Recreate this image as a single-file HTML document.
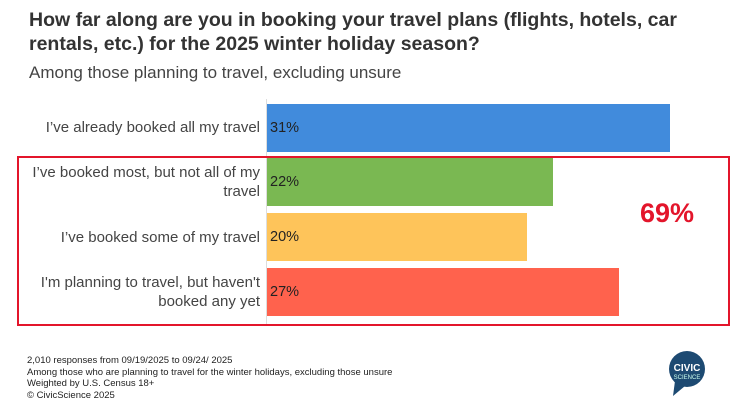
<!DOCTYPE html>
<html><head><style>
body{margin:0;width:751px;height:410px;background:#fff;position:relative;overflow:hidden;font-family:"Liberation Sans",Arial,sans-serif;color:#333}
.t{position:absolute;left:29px;top:8px;font-size:19.5px;font-weight:bold;line-height:24px;color:#333;width:720px}
.s{position:absolute;left:29px;top:63px;font-size:17px;color:#444}
.ax{position:absolute;left:266px;top:99px;width:1px;height:227px;background:#ddd}
.b{position:absolute;left:267px;height:48px;font-size:14.5px;color:#222;line-height:48px;padding-left:3px;box-sizing:border-box}
.l{position:absolute;right:491px;text-align:right;font-size:15px;color:#444;line-height:19px;width:245px}
.box{position:absolute;left:17px;top:156px;width:709px;height:166px;border:2px solid #e3152b}
.p{position:absolute;left:640px;top:198px;font-size:27px;font-weight:bold;color:#e3152b}
.f{position:absolute;left:27px;top:355px;font-size:9.5px;line-height:11.5px;color:#222}
</style></head><body>
<div class="t">How far along are you in booking your travel plans (flights, hotels, car rentals, etc.) for the 2025 winter holiday season?</div>
<div class="s">Among those planning to travel, excluding unsure</div>
<div class="ax"></div>
<div class="b" style="top:104px;width:403px;background:#418bdc">31%</div>
<div class="b" style="top:158px;width:286px;background:#7ab852">22%</div>
<div class="b" style="top:213px;width:260px;background:#fec45a">20%</div>
<div class="b" style="top:268px;width:352px;background:#ff624d">27%</div>
<div class="l" style="top:118px">I’ve already booked all my travel</div>
<div class="l" style="top:163px">I’ve booked most, but not all of my travel</div>
<div class="l" style="top:228px">I’ve booked some of my travel</div>
<div class="l" style="top:273px">I'm planning to travel, but haven't booked any yet</div>
<div class="box"></div>
<div class="p">69%</div>
<div class="f">2,010 responses from 09/19/2025 to 09/24/ 2025<br>Among those who are planning to travel for the winter holidays, excluding those unsure<br>Weighted by U.S. Census 18+<br>© CivicScience 2025</div>
<svg style="position:absolute;left:668px;top:350px" width="38" height="48" viewBox="0 0 38 48">
<circle cx="19" cy="19" r="18" fill="#1d4a72"/><path d="M7 31 L5 46 L17 36Z" fill="#1d4a72"/>
<text x="19" y="21" text-anchor="middle" font-family="Liberation Sans" font-weight="bold" font-size="10" fill="#fff">CIVIC</text>
<text x="19" y="29" text-anchor="middle" font-family="Liberation Sans" font-size="6" fill="#cfe">SCIENCE</text>
</svg>
</body></html>
